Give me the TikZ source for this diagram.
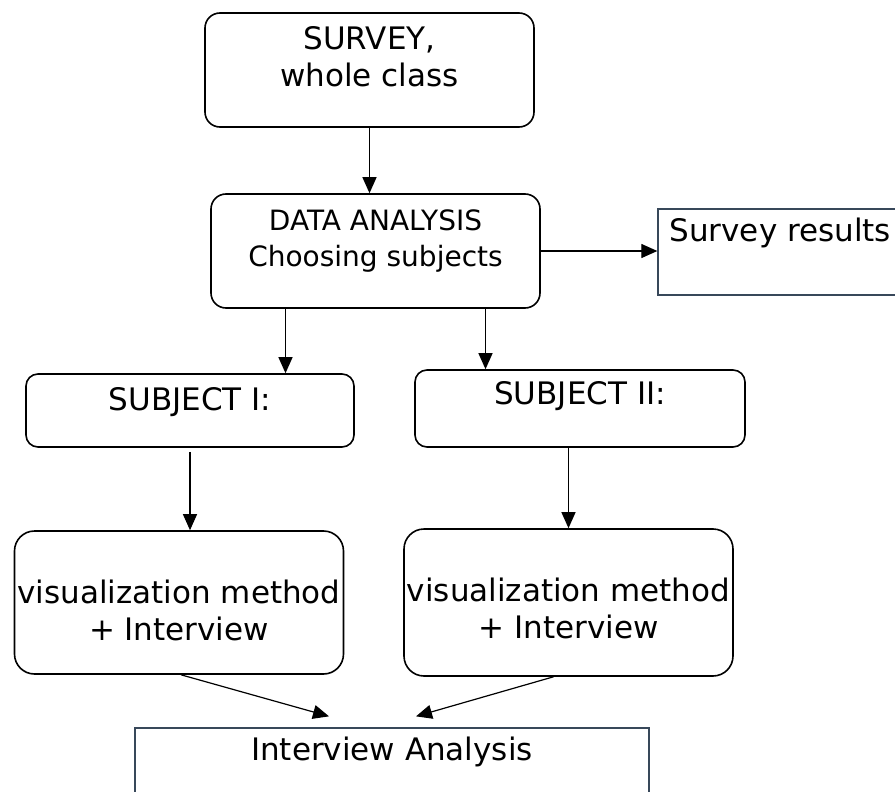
\documentclass[tikz,border=0pt]{standalone}
\usepackage{fontspec}
\setmainfont{DejaVu Sans}
\usetikzlibrary{arrows.meta,positioning}
\definecolor{slate}{RGB}{56,72,90}

\begin{document}
\begin{tikzpicture}[
  x=1pt, y=-1pt,
  rbox/.style={draw, rounded corners=15pt, line width=1.6pt, minimum width=329pt, inner sep=0pt},
  sbox/.style={draw=slate, line width=1.3pt, inner sep=0pt},
  lbl/.style={anchor=north, align=center, inner sep=0pt, font=\fontsize{31}{37}\selectfont},
  arr/.style={-{Triangle[length=16pt,width=14pt]}, line width=1.2pt}
]
  \useasboundingbox (0,0) rectangle (895,792);
  \clip (0,0) rectangle (895,792);
  \fill[white] (0,0) rectangle (895,792);

  % survey and analysis
  \node[rbox, minimum height=114pt, label={[lbl, yshift=-14pt]north:{SURVEY,\\whole class}}] (survey) at (369.5,70) {};
  \node[rbox, minimum height=114pt, label={[lbl, font=\fontsize{28}{36}\selectfont, yshift=-16pt]north:{DATA ANALYSIS\\Choosing subjects}}] (data) at (375.5,251) {};
  \node[sbox, minimum width=302pt, minimum height=86pt, label={[lbl, anchor=north west, align=left, xshift=12pt, yshift=-9pt]north west:Survey results}] (results) at (809,252) {};

  % the two subjects
  \node[rbox, rounded corners=12pt, minimum width=328pt, minimum height=73pt, label={[lbl, yshift=-14pt]north:SUBJECT I:}] (subjA) at (190,410.5) {};
  \node[rbox, rounded corners=12pt, minimum width=330pt, minimum height=77pt, label={[lbl, yshift=-12pt]north:SUBJECT II:}] (subjB) at (580,408.5) {};
  \node[rbox, rounded corners=20pt, minimum height=143pt, label={[lbl, yshift=-50pt]north:{visualization method\\+ Interview}}] (visA) at (179,602.5) {};
  \node[rbox, rounded corners=20pt, minimum height=147pt, label={[lbl, yshift=-50pt]north:{visualization method\\+ Interview}}] (visB) at (568.5,602.5) {};
  \node[sbox, minimum width=514pt, minimum height=100pt, label={[lbl, yshift=-9pt]north:Interview Analysis}] (ia) at (392,778) {};

  \draw[arr] (survey.south) -- (survey.south |- data.north);
  \draw[arr] (data.east) -- (data.east -| results.west);
  \draw[arr] ([xshift=-90pt]data.south) -- ([xshift=-90pt]data.south |- subjA.north);
  \draw[arr] ([xshift=110pt]data.south) -- ([xshift=110pt]data.south |- subjB.north);
  \draw[arr] ([yshift=-4pt]subjA.south) -- (subjA.south |- visA.north);
  \draw[arr] (visB.north |- subjB.south) -- (visB.north);
  \draw[arr] ([xshift=2pt]visA.south) -- ([xshift=-63pt,yshift=11pt]ia.north);
  \draw[arr] ([xshift=-15pt]visB.south) -- ([xshift=24pt,yshift=11pt]ia.north);
\end{tikzpicture}
\end{document}
